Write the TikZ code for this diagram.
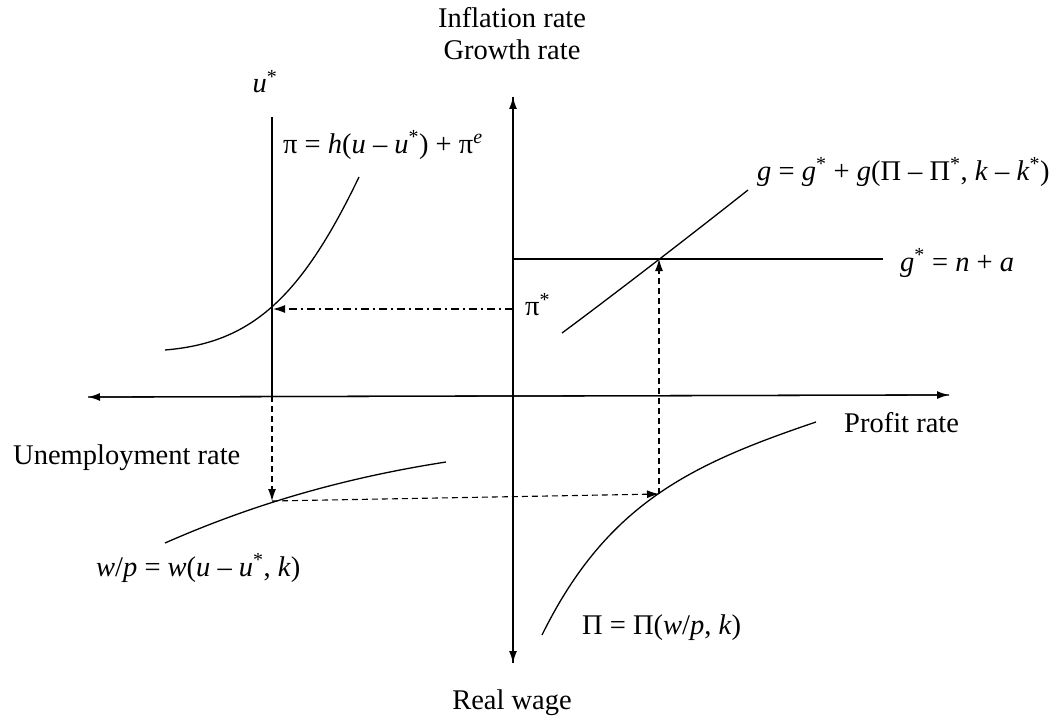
\documentclass[tikz,border=0pt]{standalone}
\usepackage{fontspec}
\setmainfont{Liberation Serif}
\usetikzlibrary{arrows.meta}
\begin{document}
\begin{tikzpicture}[x=1pt,y=-1pt,
  lbl/.style={inner sep=0pt,font=\fontsize{28.5}{32}\selectfont},
  axis/.style={line width=1.3pt},
  curve/.style={line width=1.3pt},
  tip/.style={-{Latex[length=12pt,width=8pt]}},
  dashline/.style={line width=1.1pt,dash pattern=on 6pt off 4pt},
  dashdotline/.style={line width=1.1pt,dash pattern=on 8pt off 4pt on 2pt off 4pt}]
\useasboundingbox (0,0) rectangle (1056,719);
% coordinates
\coordinate (vtop) at (513,97);
\coordinate (vbot) at (513,663);
\coordinate (hleft) at (88,397);
\coordinate (hright) at (949,395);
\coordinate (ustop) at (272,117);
\coordinate (usax) at (272,396);
\coordinate (P1) at (273,309);
\coordinate (pistar) at (513,309);
\coordinate (gsl) at (513,259);
\coordinate (gsr) at (883,259);
\coordinate (G) at (659,259);
\coordinate (W) at (272,501);
\coordinate (Q) at (659,494);
% axes
\draw[axis,tip] (vbot) -- (vtop);
\draw[axis,tip] (vtop) -- (vbot);
\draw[axis,tip] (hright) -- (hleft);
\draw[axis,tip] (hleft) -- (hright);
% u* line
\draw[axis] (ustop) -- (usax);
% g* line
\draw[axis] (gsl) -- (gsr);
% curves
\draw[curve] (165,350) .. controls (250,343) and (300,300) .. (359,177);
\draw[curve] (562,333) .. controls (620,290) and (700,228) .. (748,190);
\draw[curve] (542,635) .. controls (607,503) and (692,464) .. (816,422);
\draw[curve] (165,543) .. controls (240,510) and (330,480) .. (446,462);
% dashed connectors
\draw[dashdotline,tip] (pistar) -- (P1);
\draw[dashline,tip] (usax) -- (W);
\draw[dashline,tip] (W) -- (Q);
\draw[dashline,tip] (Q) -- (G);
% labels
\node[lbl] (infl) at (512,18) {Inflation rate};
\node[lbl] (grow) at (512,50) {Growth rate};
\node[lbl] (ustar) at (265,82) {\textit{u}\textsuperscript{*}};
\node[lbl,anchor=west] (heq) at (283,145) {π = \textit{h}(\textit{u} – \textit{u}\textsuperscript{*}) + π\textsuperscript{\textit{e}}};
\node[lbl,anchor=west] (geq) at (757,172) {\textit{g} = \textit{g}\textsuperscript{*} + \textit{g}(Π – Π\textsuperscript{*}, \textit{k} – \textit{k}\textsuperscript{*})};
\node[lbl,anchor=west] (gstar) at (900,263) {\textit{g}\textsuperscript{*} = \textit{n} + \textit{a}};
\node[lbl,anchor=west] (pist) at (525,305) {π\textsuperscript{*}};
\node[lbl,anchor=west] (prof) at (844,423) {Profit rate};
\node[lbl,anchor=west] (unemp) at (13,458) {Unemployment rate};
\node[lbl,anchor=west] (weq) at (96,568) {\textit{w}/\textit{p} = \textit{w}(\textit{u} – \textit{u}\textsuperscript{*}, \textit{k})};
\node[lbl,anchor=west] (peq) at (582,628) {Π = Π(\textit{w}/\textit{p}, \textit{k})};
\node[lbl] (real) at (512,703) {Real wage};
\end{tikzpicture}
\end{document}
